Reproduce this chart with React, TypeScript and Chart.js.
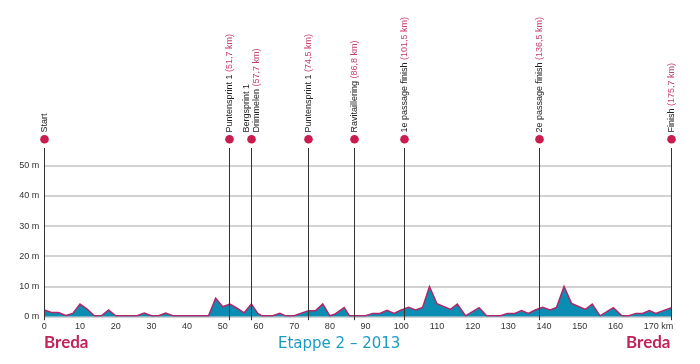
import React, { useEffect, useRef } from "react";
import { Chart, registerables } from "chart.js";

Chart.register(...registerables);

// Height profile (km, m)
const profileKm = [0, 2, 4, 6, 8, 10, 12, 14, 16, 18, 20, 26, 28, 30, 32, 34, 36, 46, 48, 50, 52, 54, 56, 58, 59.8, 61, 64, 66, 67.5, 70, 74, 76, 78, 80, 81.5, 84, 85.5, 90, 92, 94, 96, 98, 100, 102, 104, 106, 107.9, 110, 113.8, 115.7, 118, 121.8, 123.9, 127.8, 129.7, 131.8, 133.7, 135.6, 137.5, 139.6, 141.7, 143.5, 145.6, 147.7, 151.6, 153.5, 155.7, 159.4, 161.8, 163.8, 165.7, 167.6, 169.5, 171.3, 175.7];
const profileM = [2.2, 1.4, 1.4, 0.4, 1.1, 4.2, 2.5, 0.3, 0.3, 2.2, 0.3, 0.3, 1.2, 0.3, 0.3, 1.2, 0.3, 0.3, 6.1, 3.3, 4.2, 2.8, 1.3, 4.2, 1.1, 0.3, 0.3, 1.1, 0.3, 0.3, 2.0, 2.0, 4.2, 0.3, 0.9, 3.0, 0.3, 0.3, 1.1, 1.1, 2.1, 1.1, 2.2, 3.1, 2.2, 3.1, 10.0, 4.3, 2.4, 4.2, 0.3, 3.0, 0.3, 0.3, 1.1, 1.1, 2.0, 1.1, 2.2, 3.1, 2.2, 3.1, 10.0, 4.4, 2.4, 4.2, 0.3, 3.0, 0.3, 0.3, 1.1, 1.1, 2.0, 1.1, 3.0];

// Route markers
const markerKm = [0, 51.7, 57.9, 74.0, 86.8, 100.9, 138.6, 175.5];
const markerLine1 = ["Start", "Puntensprint 1", "Bergsprint 1", "Puntensprint 1", "Ravitaillering", "1e passage finish", "2e passage finish", "Finish"];
const markerLine2 = ["", "", "Drimmelen", "", "", "", "", ""];
const markerDist = ["", "(51,7 km)", "(57,7 km)", "(74,5 km)", "(86,8 km)", "(101,5 km)", "(136,5 km)", "(175,7 km)"];

const xTicks = [0, 10, 20, 30, 40, 50, 60, 70, 80, 90, 100, 110, 120, 130, 140, 150, 160, 170];
const yTicks = [0, 10, 20, 30, 40, 50];

const startTown = "Breda";
const finishTown = "Breda";
const stageTitle = "Etappe 2 – 2013";

const FONT = "'Liberation Sans', Arial, sans-serif";

const overlayPlugin = {
  id: "overlay",
  afterDatasetsDraw(chart: any) {
    const ctx = chart.ctx;
    const xs = chart.scales.x;
    const area = chart.chartArea;
    ctx.save();
    markerKm.forEach((km, i) => {
      const x = Math.round(xs.getPixelForValue(km)) + 0.5;
      ctx.strokeStyle = "#333";
      ctx.lineWidth = 1;
      ctx.beginPath();
      ctx.moveTo(x, 148);
      ctx.lineTo(x, area.bottom + 3.5);
      ctx.stroke();
      ctx.fillStyle = "#c81d4e";
      ctx.beginPath();
      ctx.arc(x, 139.3, 4.3, 0, Math.PI * 2);
      ctx.fill();
      const lines: string[][] = markerLine2[i]
        ? [[markerLine1[i], ""], [markerLine2[i], markerDist[i]]]
        : [[markerLine1[i], markerDist[i]]];
      lines.forEach((ln, j) => {
        const off = lines.length === 2 ? (j === 0 ? -5 : 5) : 0;
        ctx.save();
        ctx.translate(x + off, 132.5);
        ctx.rotate(-Math.PI / 2);
        ctx.font = "9px " + FONT;
        ctx.textAlign = "left";
        ctx.textBaseline = "middle";
        ctx.fillStyle = "#222";
        ctx.fillText(ln[0], 0, 0);
        if (ln[1]) {
          const w = ctx.measureText(ln[0] + " ").width;
          ctx.fillStyle = "#c8406e";
          ctx.fillText(ln[1], w, 0);
        }
        ctx.restore();
      });
    });
    // km unit
    ctx.font = "9px " + FONT;
    ctx.fillStyle = "#333";
    ctx.textAlign = "left";
    ctx.textBaseline = "middle";
    ctx.fillText("km", xs.getPixelForValue(170) + 10, 326.5);
    // Bottom titles
    ctx.textBaseline = "alphabetic";
    ctx.font = "bold 17px Lato, 'Open Sans', sans-serif";
    ctx.fillStyle = "#c0245a";
    ctx.textAlign = "left";
    ctx.fillText(startTown, 44, 348);
    ctx.textAlign = "right";
    ctx.fillText(finishTown, 670.5, 348);
    ctx.font = "15px 'DejaVu Sans', sans-serif";
    ctx.fillStyle = "#1a9bc4";
    ctx.textAlign = "left";
    ctx.fillText(stageTitle, 278, 347.5);
    ctx.restore();
  },
};

export default function App() {
  const ref = useRef<HTMLCanvasElement>(null);
  useEffect(() => {
    if (!ref.current) return;
    const chart = new Chart(ref.current, {
      type: "line",
      data: {
        datasets: [
          {
            data: profileKm.map((k, i) => ({ x: k, y: profileM[i] })),
            fill: "origin",
            backgroundColor: "#0b8db3",
            borderColor: "#b0286a",
            borderWidth: 1.5,
            pointRadius: 0,
            tension: 0,
          },
        ],
      },
      options: {
        responsive: false,
        animation: false,
        devicePixelRatio: 1,
        layout: { padding: { top: 147.6, right: 28.5, left: 0, bottom: 0 } },
        plugins: { legend: { display: false }, tooltip: { enabled: false } },
        scales: {
          x: {
            type: "linear",
            min: 0,
            max: 175.7,
            afterBuildTicks: (s: any) => {
              s.ticks = xTicks.map((v) => ({ value: v }));
            },
            afterFit: (s: any) => {
              s.height = 47.3;
            },
            grid: { display: false, drawTicks: false },
            border: { display: false },
            ticks: {
              padding: 4,
              maxRotation: 0,
              autoSkip: false,
              color: "#333",
              font: { family: FONT, size: 9 },
              callback: (v: any) => String(v),
            },
          },
          y: {
            min: 0,
            max: 56,
            afterBuildTicks: (s: any) => {
              s.ticks = yTicks.map((v) => ({ value: v }));
            },
            afterFit: (s: any) => {
              s.width = 44.3;
            },
            grid: { color: "#d2d2d2", lineWidth: 2, drawTicks: false },
            border: { display: false },
            ticks: {
              padding: 5,
              color: "#333",
              font: { family: FONT, size: 9 },
              callback: (v: any) => v + " m",
            },
          },
        },
      },
      plugins: [overlayPlugin],
    });
    return () => chart.destroy();
  }, []);
  return (
    <div style={{ position: "fixed", left: 0, top: 0, width: 700, height: 364, background: "#fff" }}>
      <canvas ref={ref} width={700} height={364} style={{ width: 700, height: 364, display: "block" }} />
    </div>
  );
}
